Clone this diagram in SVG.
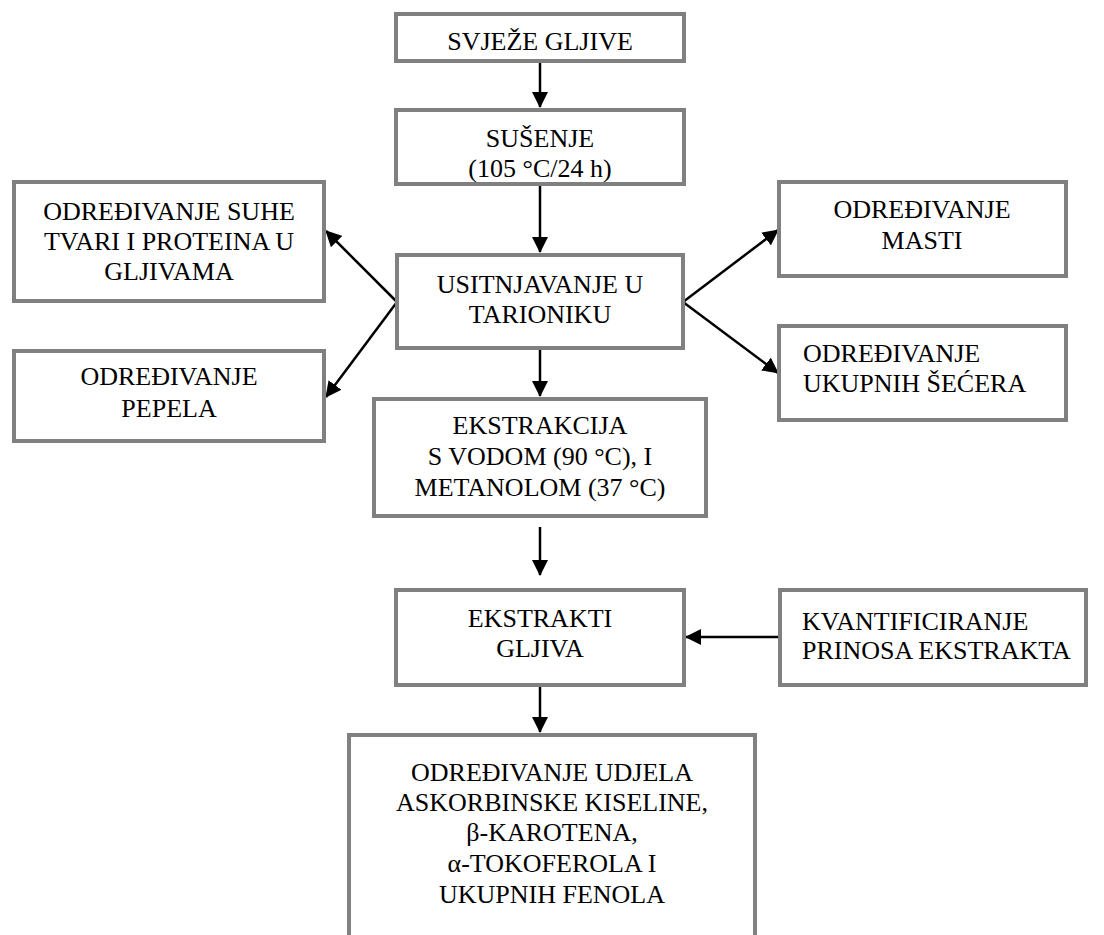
<svg xmlns="http://www.w3.org/2000/svg" width="1104" height="935" viewBox="0 0 1104 935">
<defs>
<style>
.box{fill:#fff;stroke:#808080;stroke-width:4}
text{font-family:'Liberation Serif','Times New Roman','DejaVu Serif',serif;font-size:26px;fill:#000}
.c{text-anchor:middle}
.a{stroke:#000;stroke-width:2.5;fill:none;marker-end:url(#ah)}
</style>
<marker id="ah" markerWidth="16" markerHeight="16" refX="15" refY="8" orient="auto" markerUnits="userSpaceOnUse">
<path d="M0,0 L16,8 L0,16 z" fill="#000"/>
</marker>
</defs>
<rect width="1104" height="935" fill="#fff"/>
<g id="connectors">
<line class="a" x1="540" y1="61" x2="540" y2="107"/>
<line class="a" x1="540" y1="184" x2="540" y2="252"/>
<line class="a" x1="397" y1="302" x2="326" y2="231"/>
<line class="a" x1="397" y1="302" x2="326" y2="397"/>
<line class="a" x1="683" y1="302" x2="778" y2="230"/>
<line class="a" x1="683" y1="302" x2="778" y2="373"/>
<line class="a" x1="540" y1="348" x2="540" y2="396"/>
<line class="a" x1="540" y1="527" x2="540" y2="575"/>
<line class="a" x1="778" y1="637" x2="686" y2="637"/>
<line class="a" x1="540" y1="685" x2="540" y2="732"/>
</g>
<g font-family="Liberation Serif, Times New Roman, serif" font-size="26">
<g id="n1"><rect class="box" x="396" y="14" width="288" height="47"/><text class="c" x="540" y="50">SVJEŽE GLJIVE</text></g>
<g id="n2"><rect class="box" x="396" y="110" width="288" height="74"/><text class="c" x="540" y="147">SUŠENJE</text><text class="c" x="540" y="177">(105 °C/24 h)</text></g>
<g id="n3"><rect class="box" x="397" y="255" width="286" height="93"/><text class="c" x="540" y="293">USITNJAVANJE U</text><text class="c" x="540" y="323">TARIONIKU</text></g>
<g id="n4"><rect class="box" x="14" y="182" width="310" height="119"/><text class="c" x="169" y="220">ODREĐIVANJE SUHE</text><text class="c" x="169" y="250">TVARI I PROTEINA U</text><text class="c" x="169" y="280">GLJIVAMA</text></g>
<g id="n5"><rect class="box" x="14" y="351" width="310" height="90"/><text class="c" x="169" y="385">ODREĐIVANJE</text><text class="c" x="169" y="417">PEPELA</text></g>
<g id="n6"><rect class="box" x="779" y="182" width="287" height="94"/><text class="c" x="922" y="218">ODREĐIVANJE</text><text class="c" x="922" y="249">MASTI</text></g>
<g id="n7"><rect class="box" x="779" y="326" width="287" height="94"/><text x="803" y="362">ODREĐIVANJE</text><text x="803" y="392">UKUPNIH ŠEĆERA</text></g>
<g id="n8"><rect class="box" x="374" y="399" width="332" height="117"/><text class="c" x="540" y="434">EKSTRAKCIJA</text><text class="c" x="540" y="465">S VODOM (90 °C), I</text><text class="c" x="540" y="496">METANOLOM (37 °C)</text></g>
<g id="n9"><rect class="box" x="396" y="590" width="288" height="95"/><text class="c" x="540" y="627">EKSTRAKTI</text><text class="c" x="540" y="657">GLJIVA</text></g>
<g id="n10"><rect class="box" x="780" y="590" width="306" height="95"/><text x="802" y="630">KVANTIFICIRANJE</text><text x="802" y="659">PRINOSA EKSTRAKTA</text></g>
<g id="n11"><path d="M349,940 L349,735 L755,735 L755,940" fill="#fff" stroke="#808080" stroke-width="4"/><text class="c" x="552" y="781">ODREĐIVANJE UDJELA</text><text class="c" x="552" y="811">ASKORBINSKE KISELINE,</text><text class="c" x="552" y="841">β-KAROTENA,</text><text class="c" x="552" y="872">α-TOKOFEROLA I</text><text class="c" x="552" y="903">UKUPNIH FENOLA</text></g>
</g>
</svg>
